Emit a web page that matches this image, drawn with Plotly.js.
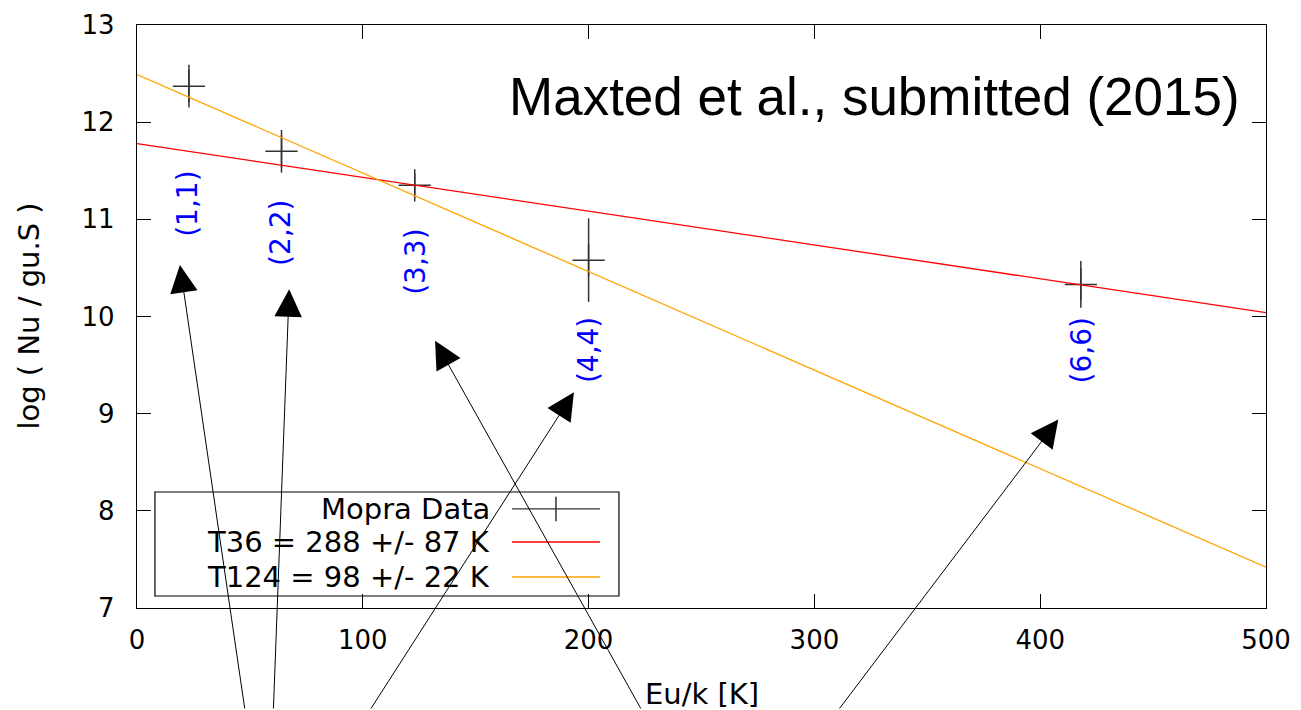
<!DOCTYPE html>
<html>
<head>
<meta charset="utf-8">
<script src="https://cdn.plot.ly/plotly-3.0.1.min.js"></script>
<style>html,body{margin:0;padding:0;background:#fff;}#chart{width:1301px;height:710px;}</style>
</head>
<body>
<div id="chart"></div>
<script>
// ---- data ----
var transitions = ["(1,1)", "(2,2)", "(3,3)", "(4,4)", "(6,6)"];
var euK = [23, 64, 123, 200, 418];
var logN = [12.37, 11.70, 11.35, 10.58, 10.33];
var logNErr = [0.22, 0.22, 0.12, 0.43, 0.24];

var fitX = [0, 500];
var fitT36 = [11.78, 10.04];
var fitT124 = [12.49, 7.42];

var legendNames = ["Mopra Data", "T36 = 288 +/- 87 K", "T124 = 98 +/- 22 K"];
var xTicks = [0, 100, 200, 300, 400, 500];
var yTicks = [7, 8, 9, 10, 11, 12, 13];

// label anchor positions (data coords) and arrows (tip / tail)
var labelX = [22.6, 63.8, 123, 200, 418.5];
var labelY = [11.16, 10.86, 10.56, 9.65, 9.65];
var arrowTipX = [19.0, 67.4, 132, 193.5, 408];
var arrowTipY = [10.53, 10.28, 9.75, 9.22, 8.94];
var arrowTailX = [47.8, 60.4, 223.5, 103.2, 310.6];
var arrowTailY = [5.95, 5.95, 5.95, 5.95, 5.95];

var FONT = "DejaVu Sans";
var FS = 29;
var FS_TICK = 26;
var FS_LBL = 28;

var traces = [
  {
    x: euK, y: logN, type: "scatter", mode: "markers", name: legendNames[0],
    marker: {symbol: "cross-thin", size: 23, color: "#333", line: {color: "#333", width: 1.5}},
    error_y: {type: "data", array: logNErr, visible: true, color: "#333", thickness: 1.5, width: 0},
    showlegend: false, cliponaxis: false
  },
  {
    x: fitX, y: fitT36, type: "scatter", mode: "lines", name: legendNames[1],
    line: {color: "#ff0000", width: 1.3}, showlegend: false
  },
  {
    x: fitX, y: fitT124, type: "scatter", mode: "lines", name: legendNames[2],
    line: {color: "#ffa500", width: 1.3}, showlegend: false
  }
];

var annotations = [];
for (var i = 0; i < transitions.length; i++) {
  annotations.push({
    x: labelX[i], y: labelY[i], xref: "x", yref: "y", text: transitions[i],
    textangle: -90, showarrow: false, font: {family: FONT, size: FS_LBL, color: "#0000ff"},
    xanchor: "center", yanchor: "middle"
  });
  annotations.push({
    x: arrowTipX[i], y: arrowTipY[i], xref: "x", yref: "y",
    ax: arrowTailX[i], ay: arrowTailY[i], axref: "x", ayref: "y",
    text: "", showarrow: true, arrowhead: 2, arrowsize: 5.5, arrowwidth: 1,
    arrowcolor: "#000", standoff: 0, startstandoff: 0
  });
}

// title text
annotations.push({
  xref: "paper", yref: "paper", x: 0.9788, y: 0.878, xanchor: "right", yanchor: "middle",
  text: "Maxted et al., submitted (2015)", showarrow: false,
  font: {family: "Liberation Sans", size: 53, color: "#000"}
});
// axis titles
annotations.push({
  xref: "paper", yref: "paper", x: 0.5, y: -0.1475, xanchor: "center", yanchor: "middle",
  text: "Eu/k [K]", showarrow: false, font: {family: FONT, size: FS, color: "#000"}
});
annotations.push({
  xref: "paper", yref: "paper", x: -0.0965, y: 0.5, xanchor: "center", yanchor: "middle",
  text: "log ( Nu / gu.S )", textangle: -90, showarrow: false, font: {family: FONT, size: FS, color: "#000"}
});

// manual gnuplot-style legend (text right, sample left->right)
var legRowY = [0.170, 0.1132, 0.0532];
var legColors = ["#333", "#ff0000", "#ffa500"];
var shapes = [
  {type: "rect", xref: "paper", yref: "paper", x0: 0.0159, x1: 0.4269, y0: 0.0206, y1: 0.199,
   line: {color: "#000", width: 1.2}, fillcolor: "rgba(0,0,0,0)"}
];
for (var j = 0; j < legendNames.length; j++) {
  annotations.push({
    xref: "paper", yref: "paper", x: 0.3144, y: legRowY[j], xanchor: "right", yanchor: "middle",
    text: legendNames[j], showarrow: false, font: {family: FONT, size: FS, color: "#000"}
  });
  shapes.push({type: "line", xref: "paper", yref: "paper", x0: 0.3322, x1: 0.4101,
    y0: legRowY[j], y1: legRowY[j], line: {color: legColors[j], width: 1.3}});
}
shapes.push({type: "line", xref: "paper", yref: "paper", x0: 0.3711, x1: 0.3711,
  y0: legRowY[0] - 0.021, y1: legRowY[0] + 0.021, line: {color: "#333", width: 1.5}});

var layout = {
  width: 1301, height: 710,
  margin: {l: 137, r: 35, t: 25, b: 102},
  paper_bgcolor: "#fff", plot_bgcolor: "#fff",
  showlegend: false,
  xaxis: {
    range: [0, 500], tickvals: xTicks, ticktext: xTicks.map(String),
    showgrid: false, zeroline: false, showline: true, linecolor: "#000", linewidth: 1.3,
    mirror: "ticks", ticks: "inside", ticklen: 14, tickwidth: 1.3, tickcolor: "#000",
    tickfont: {family: FONT, size: FS_TICK, color: "#000"}, ticklabelstandoff: 8
  },
  yaxis: {
    range: [7, 13], tickvals: yTicks, ticktext: yTicks.map(String),
    showgrid: false, zeroline: false, showline: true, linecolor: "#000", linewidth: 1.3,
    mirror: "ticks", ticks: "inside", ticklen: 14, tickwidth: 1.3, tickcolor: "#000",
    tickfont: {family: FONT, size: FS_TICK, color: "#000"}, ticklabelstandoff: 16
  },
  annotations: annotations,
  shapes: shapes
};

Plotly.newPlot("chart", traces, layout, {displayModeBar: false, staticPlot: true});
</script>
</body>
</html>
